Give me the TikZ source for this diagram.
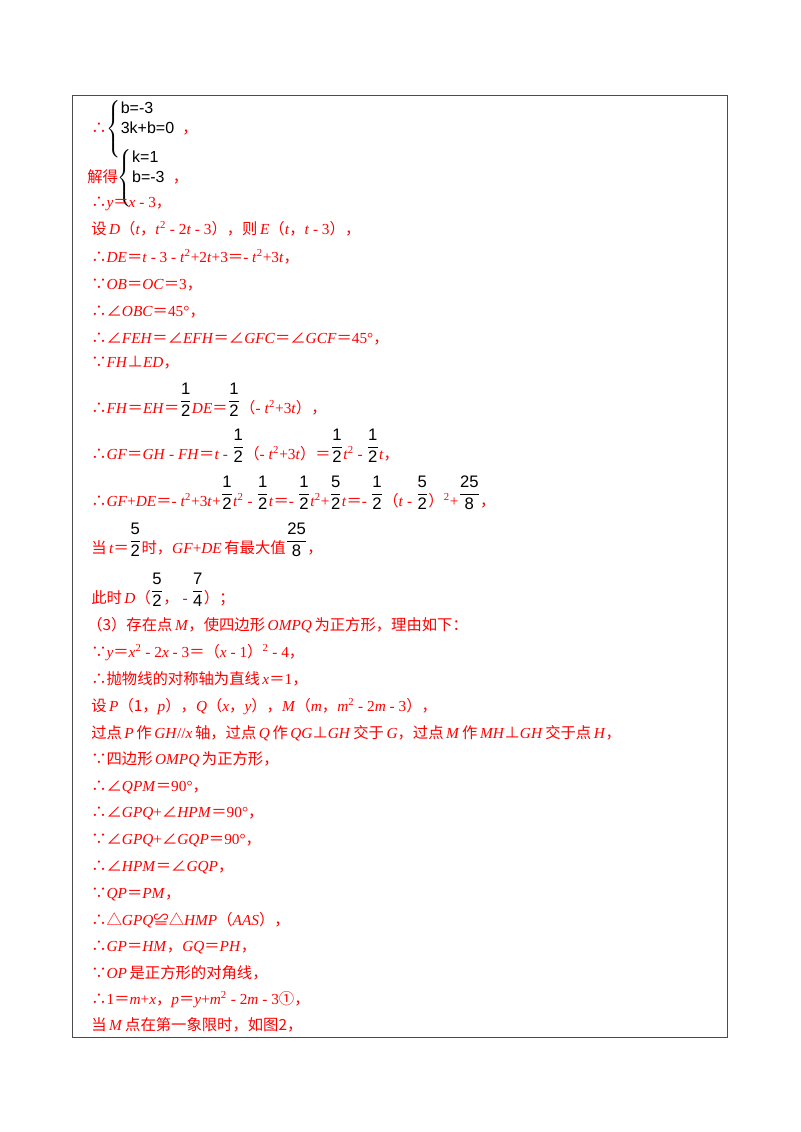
\documentclass[tikz,border=0pt]{standalone}
\usepackage{amsmath}
\usepackage{fontspec}
\setmainfont{Liberation Serif}
\setsansfont{Liberation Sans}
\newfontfamily\cjk{Noto Sans CJK SC}
\newcommand{\zh}[1]{{\cjk #1}}
\newcommand{\iv}[1]{\textit{#1}}
\newcommand{\eq}{{\cjk ＝}}
\newcommand{\fr}[2]{{\color{black}\sffamily\fontsize{12.5}{14}\selectfont\raisebox{0.45em}{$\displaystyle\genfrac{}{}{0.4pt}{0}{\text{#1}}{\text{#2}}$}}}
\newcommand{\sys}[2]{{\color{black}\sffamily\fontsize{12}{14}\selectfont$\left\{\begin{array}[b]{@{}l}\text{#1}\\[1pt]\text{#2}\end{array}\right.$}}
\begin{document}
\begin{tikzpicture}[x=0.75pt,y=-0.75pt,
  ln/.style={anchor=base west,inner sep=0pt,text=red,font=\fontsize{11.5}{13}\selectfont}]
\useasboundingbox (0,0) rectangle (800,1132);
\draw[line width=0.6pt,black!70] (72,95) rectangle (727,1037);
\node[ln] (l1) at (91,133) {\zh{∴}\sys{b=-3}{3k+b=0}\zh{，}};
\node[ln] (l2) at (87,182) {\zh{解得}\sys{k=1}{b=-3}\zh{，}};
\node[ln] (l3) at (91,207) {\zh{∴}\iv{y}\eq\iv{x} - 3\zh{，}};
\node[ln] (l4) at (91,234) {\zh{设}\,\iv{D}\zh{（}\iv{t}\zh{，}\iv{t}\textsuperscript{2} - 2\iv{t} - 3\zh{），则}\,\iv{E}\zh{（}\iv{t}\zh{，}\iv{t} - 3\zh{），}};
\node[ln] (l5) at (91,262) {\zh{∴}\iv{DE}\eq\iv{t} - 3 - \iv{t}\textsuperscript{2}+2\iv{t}+3\eq - \iv{t}\textsuperscript{2}+3\iv{t}\zh{，}};
\node[ln] (l6) at (91,289) {\zh{∵}\iv{OB}\eq\iv{OC}\eq3\zh{，}};
\node[ln] (l7) at (91,316) {\zh{∴∠}\iv{OBC}\eq45°\zh{，}};
\node[ln] (l8) at (91,343) {\zh{∴∠}\iv{FEH}\eq\zh{∠}\iv{EFH}\eq\zh{∠}\iv{GFC}\eq\zh{∠}\iv{GCF}\eq45°\zh{，}};
\node[ln] (l9) at (91,367) {\zh{∵}\iv{FH}\zh{⊥}\iv{ED}\zh{，}};
\node[ln] (l10) at (91,413) {\zh{∴}\iv{FH}\eq\iv{EH}\eq\fr{1}{2}\iv{DE}\eq\fr{1}{2}\zh{（}- \iv{t}\textsuperscript{2}+3\iv{t}\zh{），}};
\node[ln] (l11) at (91,459) {\zh{∴}\iv{GF}\eq\iv{GH} - \iv{FH}\eq\iv{t} - \fr{1}{2}\zh{（}- \iv{t}\textsuperscript{2}+3\iv{t}\zh{）}\eq\fr{1}{2}\iv{t}\textsuperscript{2} - \fr{1}{2}\iv{t}\zh{，}};
\node[ln] (l12) at (91,506) {\zh{∴}\iv{GF}+\iv{DE}\eq - \iv{t}\textsuperscript{2}+3\iv{t}+\fr{1}{2}\iv{t}\textsuperscript{2} - \fr{1}{2}\iv{t}\eq - \fr{1}{2}\iv{t}\textsuperscript{2}+\fr{5}{2}\iv{t}\eq - \fr{1}{2}\zh{（}\iv{t} - \fr{5}{2}\zh{）}\textsuperscript{2}+\fr{25}{8}\zh{，}};
\node[ln] (l13) at (91,553) {\zh{当}\,\iv{t}\eq\fr{5}{2}\zh{时，}\iv{GF}+\iv{DE}\,\zh{有最大值}\fr{25}{8}\zh{，}};
\node[ln] (l14) at (91,603) {\zh{此时}\,\iv{D}\zh{（}\fr{5}{2}\zh{，} - \fr{7}{4}\zh{）；}};
\node[ln] (l15) at (87,630) {\zh{（3）存在点}\,\iv{M}\zh{，使四边形}\,\iv{OMPQ}\,\zh{为正方形，理由如下：}};
\node[ln] (l16) at (91,657) {\zh{∵}\iv{y}\eq\iv{x}\textsuperscript{2} - 2\iv{x} - 3\eq\zh{（}\iv{x} - 1\zh{）}\textsuperscript{2} - 4\zh{，}};
\node[ln] (l17) at (91,684) {\zh{∴抛物线的对称轴为直线}\,\iv{x}\eq1\zh{，}};
\node[ln] (l18) at (91,711) {\zh{设}\,\iv{P}\zh{（1，}\iv{p}\zh{），}\iv{Q}\zh{（}\iv{x}\zh{，}\iv{y}\zh{），}\iv{M}\zh{（}\iv{m}\zh{，}\iv{m}\textsuperscript{2} - 2\iv{m} - 3\zh{），}};
\node[ln] (l19) at (91,738) {\zh{过点}\,\iv{P}\,\zh{作}\,\iv{GH}//\iv{x}\,\zh{轴，过点}\,\iv{Q}\,\zh{作}\,\iv{QG}\zh{⊥}\iv{GH}\,\zh{交于}\,\iv{G}\zh{，过点}\,\iv{M}\,\zh{作}\,\iv{MH}\zh{⊥}\iv{GH}\,\zh{交于点}\,\iv{H}\zh{，}};
\node[ln] (l20) at (91,764) {\zh{∵四边形}\,\iv{OMPQ}\,\zh{为正方形，}};
\node[ln] (l21) at (91,791) {\zh{∴∠}\iv{QPM}\eq90°\zh{，}};
\node[ln] (l22) at (91,817) {\zh{∴∠}\iv{GPQ}+\zh{∠}\iv{HPM}\eq90°\zh{，}};
\node[ln] (l23) at (91,844) {\zh{∵∠}\iv{GPQ}+\zh{∠}\iv{GQP}\eq90°\zh{，}};
\node[ln] (l24) at (91,871) {\zh{∴∠}\iv{HPM}\eq\zh{∠}\iv{GQP}\zh{，}};
\node[ln] (l25) at (91,898) {\zh{∵}\iv{QP}\eq\iv{PM}\zh{，}};
\node[ln] (l26) at (91,925) {\zh{∴△}\iv{GPQ}\zh{≌△}\iv{HMP}\zh{（}\iv{AAS}\zh{），}};
\node[ln] (l27) at (91,951) {\zh{∴}\iv{GP}\eq\iv{HM}\zh{，}\iv{GQ}\eq\iv{PH}\zh{，}};
\node[ln] (l28) at (91,978) {\zh{∵}\iv{OP}\,\zh{是正方形的对角线，}};
\node[ln] (l29) at (91,1004) {\zh{∴}1\eq\iv{m}+\iv{x}\zh{，}\iv{p}\eq\iv{y}+\iv{m}\textsuperscript{2} - 2\iv{m} - 3\zh{①，}};
\node[ln] (l30) at (91,1030) {\zh{当}\,\iv{M}\,\zh{点在第一象限时，如图2，}};
\end{tikzpicture}
\end{document}
